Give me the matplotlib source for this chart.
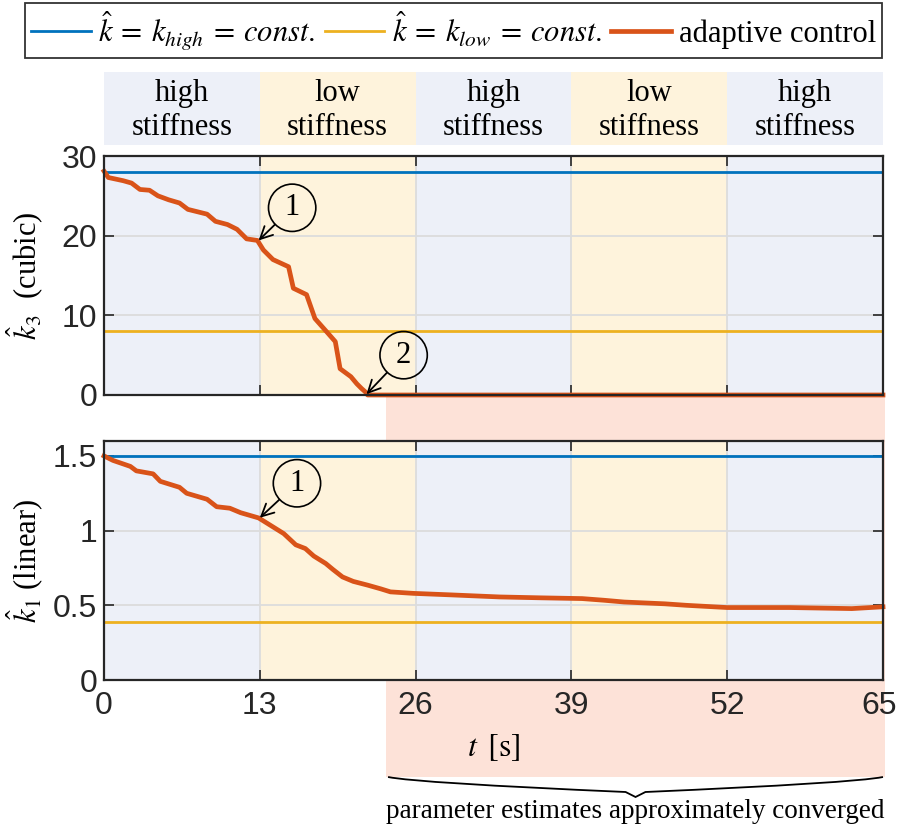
import numpy as np
import matplotlib
matplotlib.use('Agg')
import matplotlib.pyplot as plt
from matplotlib.lines import Line2D
from matplotlib.patches import Rectangle, PathPatch
from matplotlib.path import Path
import matplotlib.transforms as mtrans

# ---------------- data ----------------
phase_edges = [0, 13, 26, 39, 52, 65]
phase_labels = ['high\nstiffness', 'low\nstiffness', 'high\nstiffness',
                'low\nstiffness', 'high\nstiffness']
phase_kind = ['high', 'low', 'high', 'low', 'high']
x_ticks = [0, 13, 26, 39, 52, 65]
k3_ticks = [0, 10, 20, 30]
k1_ticks = [0, 0.5, 1, 1.5]
k1_ticklabels = ['0', '0.5', '1', '1.5']

k3_high = 28.0
k3_low = 8.0
k1_high = 1.5
k1_low = 0.39

t_k3 = [0, 0.36, 1.6, 2.3, 3.0, 3.8, 4.5, 5.4, 6.3, 7.0, 8.6, 9.3, 10.3, 11.1,
        11.9, 12.8, 13.3, 14.1, 15.4, 15.8, 16.9, 17.6, 18.6, 19.3, 19.7, 20.6,
        21.1, 21.5, 21.8, 22.0, 65.0]
k3_adapt = [28.1, 27.3, 26.9, 26.6, 25.8, 25.7, 25.0, 24.5, 24.1, 23.3, 22.7,
            21.8, 21.4, 20.8, 19.6, 19.4, 18.2, 17.0, 16.1, 13.4, 12.6, 9.6,
            7.9, 6.7, 3.3, 2.3, 1.4, 0.8, 0.4, 0.0, 0.0]

t_k1 = [0, 0.75, 2.2, 2.7, 4.1, 4.7, 6.3, 6.9, 8.6, 9.4, 10.5, 11.4, 12.9,
        13.6, 15.0, 16.0, 16.8, 17.5, 18.5, 19.1, 19.9, 20.8, 22.0, 23.1, 23.9,
        25.8, 28.9, 33.0, 36.5, 39.9, 41.7, 43.4, 46.8, 48.6, 52.0, 57.2, 62.4,
        65.0]
k1_adapt = [1.50, 1.47, 1.43, 1.40, 1.38, 1.33, 1.29, 1.25, 1.21, 1.16, 1.15,
            1.12, 1.085, 1.05, 0.98, 0.905, 0.88, 0.83, 0.78, 0.74, 0.69, 0.66,
            0.635, 0.61, 0.59, 0.58, 0.57, 0.556, 0.55, 0.545, 0.534, 0.522,
            0.51, 0.50, 0.485, 0.485, 0.478, 0.49]

t_converged = 23.5

# annotations: (label, tip t, tip value, circle t, circle value)
ann_k3 = [('1', 12.9, 19.4, 15.7, 23.5), ('2', 21.9, 0.1, 25.0, 5.0)]
ann_k1 = [('1', 13.0, 1.086, 16.1, 1.317)]

legend_labels = [r'$\hat{k}\:=\:k_{high}\:=\:const.$',
                 r'$\hat{k}\:=\:k_{low}\:=\:const.$',
                 'adaptive control']

# ---------------- style ----------------
C_BLUE = '#0072BD'
C_YEL = '#EDB120'
C_ORG = '#D95319'
BG = {'high': '#EDF0F8', 'low': '#FEF3DC'}
PINK = '#FDE2D8'
AXC = '#262626'

plt.rcParams['font.family'] = ['Liberation Serif', 'DejaVu Serif']
plt.rcParams['mathtext.fontset'] = 'stix'
SER = 22
TICKFONT = dict(family=['Liberation Sans', 'DejaVu Sans'], size=23)

fig = plt.figure(figsize=(8.99, 8.25), dpi=100)

L, W = 104 / 899, (883 - 104) / 899


def fy(px):
    return 1 - px / 825


# strip with phase labels
ax0 = fig.add_axes([L, fy(145), W, fy(72) - fy(145)])
ax0.set_xlim(0, 65)
ax0.set_ylim(0, 1)
ax0.axis('off')
for i, lab in enumerate(phase_labels):
    a, b = phase_edges[i], phase_edges[i + 1]
    ax0.axvspan(a, b, color=BG[phase_kind[i]], lw=0)
    ax0.text((a + b) / 2, 0.47, lab, ha='center', va='center', fontsize=SER,
             linespacing=1.2)

ax1 = fig.add_axes([L, fy(395), W, fy(156) - fy(395)])
ax2 = fig.add_axes([L, fy(680), W, fy(441) - fy(680)])

for ax in (ax1, ax2):
    for i in range(len(phase_kind)):
        ax.axvspan(phase_edges[i], phase_edges[i + 1], color=BG[phase_kind[i]],
                   lw=0, zorder=0)
    ax.set_xlim(0, 65)
    ax.set_xticks(x_ticks)
    ax.grid(True, color='#DCDCDC', lw=1.3, zorder=0.5)
    ax.set_axisbelow(True)
    ax.tick_params(direction='in', top=True, right=True, length=7, width=1.2,
                   colors=AXC, labelcolor=AXC)
    ax.tick_params(axis='x', pad=8)
    ax.tick_params(axis='y', pad=5)
    for s in ax.spines.values():
        s.set_linewidth(1.6)
        s.set_color(AXC)
        s.set_zorder(5)

ax1.set_ylim(0, 30)
ax1.set_yticks(k3_ticks)
ax1.set_xticklabels([])
ax1.axhline(k3_high, color=C_BLUE, lw=2, zorder=3)
ax1.axhline(k3_low, color=C_YEL, lw=2, zorder=3)
ax1.plot(t_k3, k3_adapt, color=C_ORG, lw=3.4, zorder=4, clip_on=False,
         solid_joinstyle='round')
ax1.set_ylabel(r'$\hat{k}_3$  (cubic)', fontsize=SER)
ax1.yaxis.set_label_coords(-0.074, 0.5)

ax2.set_ylim(0, 1.6)
ax2.set_yticks(k1_ticks)
ax2.set_yticklabels(k1_ticklabels)
ax2.axhline(k1_high, color=C_BLUE, lw=2, zorder=3)
ax2.axhline(k1_low, color=C_YEL, lw=2, zorder=3)
ax2.plot(t_k1, k1_adapt, color=C_ORG, lw=3.4, zorder=4, clip_on=False,
         solid_joinstyle='round')
ax2.set_ylabel(r'$\hat{k}_1$ (linear)', fontsize=SER)
ax2.yaxis.set_label_coords(-0.074, 0.5)
ax2.set_xlabel(r'$t\ \,[\mathrm{s}]$', fontsize=SER + 1, labelpad=8)

for ax in (ax1, ax2):
    for lab in ax.get_xticklabels() + ax.get_yticklabels():
        lab.set_fontfamily(TICKFONT['family'])
        lab.set_fontsize(TICKFONT['size'])

# keep the last x tick label inside the canvas
last = ax2.get_xticklabels()[-1]
last.set_transform(last.get_transform() +
                   mtrans.ScaledTranslation(-4 / 100, 0, fig.dpi_scale_trans))

for ax, anns in ((ax1, ann_k3), (ax2, ann_k1)):
    for lab, tx, ty, cx, cy in anns:
        ax.annotate(lab, xy=(tx, ty), xytext=(cx, cy), fontsize=SER,
                    ha='center', va='center', zorder=6,
                    bbox=dict(boxstyle='circle,pad=0.3', fc='none', ec='k',
                              lw=1.2),
                    arrowprops=dict(arrowstyle='->', color='k', lw=1.3,
                                    shrinkA=0, shrinkB=0, mutation_scale=22))

# converged region (behind axes)
tr = mtrans.blended_transform_factory(ax2.transData, fig.transFigure)
y_top = fy(395)
y_bot = fy(777)
rect = Rectangle((t_converged, y_bot), 65.15 - t_converged, y_top - y_bot,
                 transform=tr, color=PINK, lw=0, zorder=-1)
fig.patches.append(rect)

# brace
x0, x1 = t_converged + 0.2, 65.0
xm = (x0 + x1) / 2
Lb = x1 - x0
verts = [(x0, fy(777)), (x0 + 0.06 * Lb, fy(783)), (xm - 0.02 * Lb, fy(792)),
         (xm, fy(797)),
         (xm + 0.02 * Lb, fy(792)), (x1 - 0.06 * Lb, fy(783)), (x1, fy(777))]
codes = [Path.MOVETO, Path.CURVE3, Path.CURVE3, Path.LINETO, Path.LINETO,
         Path.CURVE3, Path.CURVE3]
brace = PathPatch(Path(verts, codes), transform=tr, fc='none', ec='k', lw=1.3)
fig.patches.append(brace)
fig.text(xm, fy(811), 'parameter estimates approximately converged',
         transform=tr, ha='center', va='center', fontsize=19.5)

# legend
handles = [Line2D([], [], color=C_BLUE, lw=2),
           Line2D([], [], color=C_YEL, lw=2),
           Line2D([], [], color=C_ORG, lw=3.4)]
leg = fig.legend(handles, legend_labels, loc='upper center',
                 bbox_to_anchor=((24 + 883) / 2 / 899, fy(3)), ncol=3,
                 frameon=True, fancybox=False, edgecolor='k', fontsize=SER,
                 handlelength=1.95, handletextpad=0.25, columnspacing=0.3,
                 borderaxespad=0, borderpad=0.2)
leg.get_frame().set_linewidth(1.3)

fig.savefig('out.png', dpi=100)
